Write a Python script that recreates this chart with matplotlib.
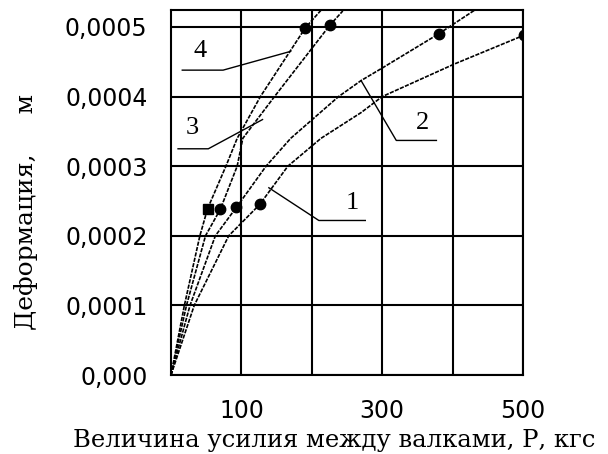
import matplotlib
matplotlib.use("Agg")
import matplotlib.pyplot as plt

# curves: force P (kgf) vs deformation (m)
p1 = [0, 33, 82, 126, 166, 213, 270, 300, 403, 501]
d1 = [0, 0.0001, 0.0002, 0.000245, 0.0003, 0.00034, 0.000377, 0.0004, 0.000447, 0.000488]
p2 = [0, 27, 63, 93, 135, 170, 238, 270, 300, 380, 431]
d2 = [0, 0.0001, 0.0002, 0.000241, 0.0003, 0.00034, 0.0004, 0.000423, 0.000441, 0.00049, 0.000524]
p3 = [0, 22, 49, 70, 94, 102, 147, 226, 244]
d3 = [0, 0.0001, 0.0002, 0.000238, 0.0003, 0.00034, 0.0004, 0.000503, 0.000523]
p4 = [0, 19, 41, 52, 78, 94, 127, 191, 213]
d4 = [0, 0.0001, 0.0002, 0.000239, 0.0003, 0.00034, 0.0004, 0.000499, 0.000524]

# measured points (markers)
mark_p = [[126, 501], [93, 380], [70, 226], [52, 191]]
mark_d = [[0.000245, 0.000488], [0.000241, 0.00049], [0.000238, 0.000503], [0.000239, 0.000499]]

# curve labels and leader lines
labels = ["1", "2", "3", "4"]
label_x = [257, 357, 30, 41]
label_y = [0.000247, 0.000362, 0.000355, 0.000466]
leader_x = [[276, 210, 139], [377, 320, 270], [10, 53, 130], [16, 74, 170]]
leader_y = [[0.000222, 0.000222, 0.000269], [0.000337, 0.000337, 0.000423],
            [0.000325, 0.000325, 0.000367], [0.000438, 0.000438, 0.000465]]

yticks = [0, 0.0001, 0.0002, 0.0003, 0.0004, 0.0005]
ytick_labels = ["0,000", "0,0001", "0,0002", "0,0003", "0,0004", "0,0005"]
xticks = [100, 200, 300, 400, 500]
xtick_labels = ["100", "", "300", "", "500"]

fig = plt.figure(figsize=(6.08, 4.54), dpi=100)
ax = fig.add_axes([171 / 608, 1 - 375 / 454, (523 - 171) / 608, (375 - 10) / 454])

line_kw = dict(color="black", linewidth=1.2, linestyle=(0, (2.5, 0.8)))
for px, dy in [(p1, d1), (p2, d2), (p3, d3), (p4, d4)]:
    ax.plot(px, dy, **line_kw)

for i, (mp, md) in enumerate(zip(mark_p, mark_d)):
    ax.plot(mp[1:], md[1:], "o", color="black", markersize=7.5)
    ax.plot(mp[:1], md[:1], "s" if i == 3 else "o", color="black", markersize=7.5)

for i in range(4):
    ax.plot(leader_x[i], leader_y[i], color="black", linewidth=1.0)
    ax.text(label_x[i], label_y[i], labels[i], ha="center", va="center",
            fontsize=19, family="Liberation Serif")

ax.set_xlim(0, 500)
ax.set_ylim(0, 0.0005244)
ax.set_xticks(xticks)
ax.set_xticklabels(xtick_labels)
ax.set_yticks(yticks)
ax.set_yticklabels(ytick_labels)
ax.tick_params(length=0, labelsize=17, pad=17)
ax.grid(True, color="black", linewidth=1.5)
for s in ax.spines.values():
    s.set_linewidth(1.5)

ax.set_xlabel("Величина усилия между валками, Р, кгс", family="DejaVu Serif",
              fontsize=17.5)
ax.xaxis.set_label_coords((334 - 171) / 352, -(440 - 375) / 365)
ax.xaxis.label.set_va("center")
ax.set_ylabel("Деформация,     м", family="DejaVu Serif", fontsize=18)
ax.yaxis.set_label_coords(-(171 - 26) / 352, (375 - 212) / 365)
ax.yaxis.label.set_va("center")

fig.savefig("out.png", dpi=100)
